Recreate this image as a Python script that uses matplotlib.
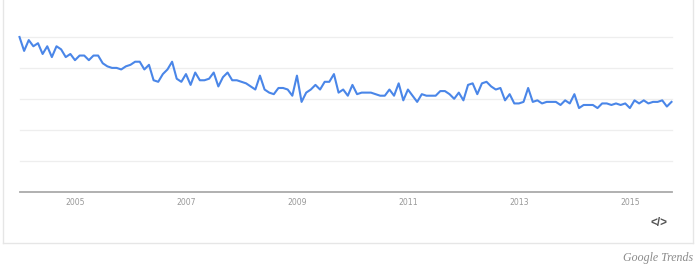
import matplotlib
matplotlib.use("Agg")
import matplotlib.pyplot as plt
from matplotlib.lines import Line2D

# Monthly interest values, Jan 2004 .. Oct 2015
values = [
    100, 91, 98, 94, 96, 89, 94, 87, 94, 92, 87, 89,
    85, 88, 88, 85, 88, 88, 83, 81, 80, 80, 79, 81,
    82, 84, 84, 79, 82, 72, 71, 76, 79, 84, 73, 71,
    76, 69, 77, 72, 72, 73, 77, 68, 74, 77, 72, 72,
    71, 70, 68, 66, 75, 66, 64, 63, 67, 67, 66, 62,
    75, 58, 64, 66, 69, 66, 71, 71, 76, 64, 66, 62,
    69, 63, 64, 64, 64, 63, 62, 62, 66, 62, 70, 59,
    66, 62, 58, 63, 62, 62, 62, 65, 65, 63, 60, 64,
    59, 69, 70, 63, 70, 71, 68, 66, 67, 59, 63, 57,
    57, 58, 67, 58, 59, 57, 58, 58, 58, 56, 59, 57,
    63, 54, 56, 56, 56, 54, 57, 57, 56, 57, 56, 57,
    54, 59, 57, 59, 57, 58, 58, 59, 55, 58,
]
start_year = 2004
tick_years = [2005, 2007, 2009, 2011, 2013, 2015]
grid_levels = [20, 40, 60, 80, 100]

x = [start_year + i / 12 for i in range(len(values))]

W, H = 700, 266
fig = plt.figure(figsize=(W / 100, H / 100), dpi=100)
fig.patch.set_facecolor("white")

# card border (left, right, bottom)
card_l, card_r, card_b = 2.7 / W, 692.7 / W, 1 - 243.3 / H
for xs, ys in [([card_l, card_l], [card_b, 1.02]),
               ([card_r, card_r], [card_b, 1.02]),
               ([card_l, card_r], [card_b, card_b])]:
    fig.add_artist(Line2D(xs, ys, color="#e6e6e6", lw=1.0, transform=fig.transFigure))

ax_l, ax_r = 19.5 / W, 671.5 / W
ax_b, ax_t = 1 - 191.5 / H, 1 - 37 / H
ax = fig.add_axes([ax_l, ax_b, ax_r - ax_l, ax_t - ax_b])
ax.set_xlim(x[0], x[-1])
ax.set_ylim(0, 100)

for g in grid_levels:
    ax.axhline(g, color="#eeeeee", lw=0.9, zorder=0, clip_on=False)

ax.plot(x, values, color="#4a86e8", lw=1.5, clip_on=False, zorder=3)

for s in ["top", "right", "left"]:
    ax.spines[s].set_visible(False)
ax.spines["bottom"].set_color("#aaaaaa")
ax.spines["bottom"].set_linewidth(1.3)
ax.set_yticks([])
ax.set_xticks(tick_years)
ax.set_xticklabels([str(y) for y in tick_years])
ax.tick_params(axis="x", length=0, pad=5, labelsize=5.6, labelcolor="#999999")
ax.set_facecolor("white")

fig.text(659 / W, 1 - 223 / H, "</>", ha="center", va="center",
         fontsize=8.5, color="#555555", fontweight="bold", family="Liberation Sans")
fig.text(692.7 / W, 1 - 257.5 / H, "Google Trends", ha="right", va="center",
         fontsize=8.6, color="#8a8a8a", style="italic", family="Liberation Serif")

fig.savefig("out.png", dpi=100, facecolor="white")
